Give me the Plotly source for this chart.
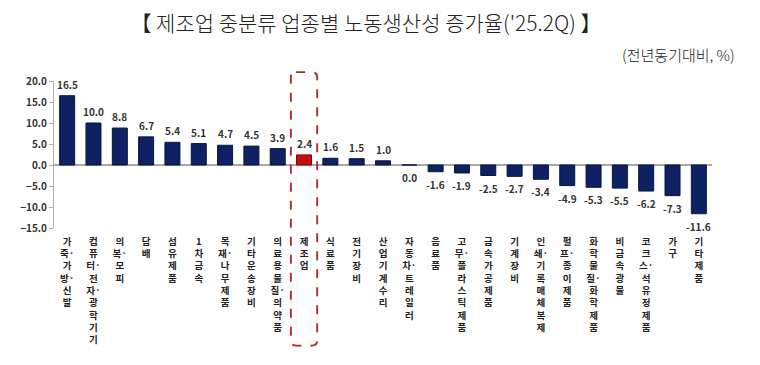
import plotly.graph_objects as go

categories = [
    "가죽·가방·신발", "컴퓨터·전자·광학기기", "의복·모피", "담배", "섬유제품",
    "1차 금속", "목재·나무제품", "기타운송장비", "의료용물질·의약품", "제조업",
    "식료품", "전기장비", "산업기계수리", "자동차·트레일러", "음료품",
    "고무·플라스틱제품", "금속가공제품", "기계장비", "인쇄·기록매체복제", "펄프·종이제품",
    "화학물질·화학제품", "비금속광물", "코크스·석유정제품", "가구", "기타제품",
]
values = [16.5, 10.0, 8.8, 6.7, 5.4, 5.1, 4.7, 4.5, 3.9, 2.4,
          1.6, 1.5, 1.0, 0.0, -1.6, -1.9, -2.5, -2.7, -3.4, -4.9,
          -5.3, -5.5, -6.2, -7.3, -11.6]
highlight = "제조업"
y_ticks = [20, 15, 10, 5, 0, -5, -10, -15]

NAVY = "#0e2163"
RED = "#c50f0f"


def vertical(label):
    chars = []
    for ch in label:
        if ch == " ":
            continue
        if ch == "·" and chars:
            chars[-1] = chars[-1] + "·"
        else:
            chars.append(ch)
    return "<br>".join(chars)


x_idx = list(range(len(categories)))
colors = [RED if c == highlight else NAVY for c in categories]
line_colors = ["#7a0a0a" if c == highlight else "#081540" for c in categories]

fig = go.Figure()
fig.add_trace(go.Bar(
    x=x_idx, y=values,
    marker=dict(color=colors, line=dict(color=line_colors, width=1)),
    width=0.57,
    hoverinfo="skip",
))

for i, v in enumerate(values):
    pos = v > 0
    fig.add_annotation(
        x=i, y=v, xref="x", yref="y",
        text=f"{v:.1f}", showarrow=False,
        yanchor="bottom" if pos else "top",
        yshift=2 if pos else -3,
        font=dict(family="Noto Sans CJK KR", size=10, color="#333333", weight="bold"),
    )

# highlight box around 제조업 (rounded dashed rectangle)
hi = categories.index(highlight)
x0, x1 = hi - 0.5, hi + 0.5
y0, y1 = -0.80, 1.06
rx, ry = 0.2, 0.035
path = (f"M {x0+rx} {y1} L {x1-rx} {y1} Q {x1} {y1} {x1} {y1-ry} "
        f"L {x1} {y0+ry} Q {x1} {y0} {x1-rx} {y0} "
        f"L {x0+rx} {y0} Q {x0} {y0} {x0} {y0+ry} "
        f"L {x0} {y1-ry} Q {x0} {y1} {x0+rx} {y1} Z")
fig.add_shape(type="path", path=path, xref="x", yref="paper",
              line=dict(color="#b3222e", width=1.8, dash="dash"),
              fillcolor="rgba(0,0,0,0)", layer="above")

fig.update_layout(
    width=752, height=357,
    margin=dict(l=42, r=48, t=73, b=137),
    paper_bgcolor="white", plot_bgcolor="white",
    showlegend=False,
    font=dict(family="Noto Sans CJK KR"),
    title=dict(
        text="【 제조업 중분류 업종별 노동생산성 증가율('25.2Q) 】",
        x=0.476, xanchor="center", y=0.955, yanchor="middle",
        font=dict(family="Noto Sans CJK KR", size=21, color="#222222", weight=300),
    ),
    xaxis=dict(
        range=[-0.5, len(categories) - 0.5],
        tickmode="array", tickvals=x_idx,
        ticktext=[vertical(c) for c in categories],
        tickangle=0,
        tickfont=dict(family="Noto Sans CJK KR", size=9.5, color="#222222", weight="bold"),
        showline=False, showgrid=False, zeroline=False, ticks="",
        ticklabelstandoff=6,
    ),
    yaxis=dict(
        range=[-15, 20], tickmode="array", tickvals=y_ticks,
        tickformat=".1f",
        tickfont=dict(family="Noto Sans CJK KR", size=10, color="#333333", weight="bold"),
        showline=True, linecolor="#b0b0b0", linewidth=1,
        ticks="outside", ticklen=4, tickcolor="#b0b0b0",
        showgrid=False, zeroline=True, zerolinecolor="#a8a8a8", zerolinewidth=1.5,
    ),
)

fig.add_annotation(
    text="(전년동기대비, %)", xref="paper", yref="paper",
    x=1.038, y=1.177, xanchor="right", yanchor="middle", showarrow=False,
    font=dict(family="Noto Sans CJK KR", size=15, color="#222222", weight=300),
)

fig.write_html("out.html")
